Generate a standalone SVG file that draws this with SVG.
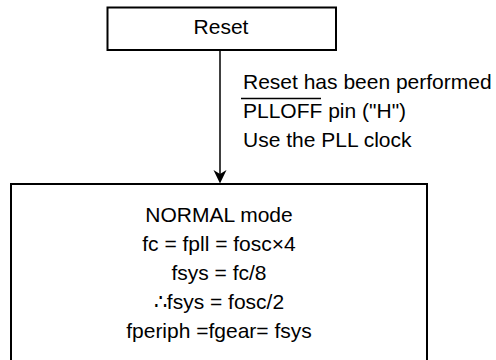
<svg xmlns="http://www.w3.org/2000/svg" width="496" height="360" viewBox="0 0 496 360">
<style>
.box{fill:#fff;stroke:#000;stroke-width:2}
.t{font-family:"Liberation Sans",Arial,sans-serif;font-size:21px;fill:#000}
.c{text-anchor:middle}
.edge{stroke:#000;stroke-width:1.5;fill:none}
</style>
<rect width="496" height="360" fill="#fff"/>
<g id="reset">
<rect class="box" x="107.5" y="7.5" width="228.5" height="42.5"/>
<text class="t c" x="221" y="34">Reset</text>
</g>
<g id="normal">
<rect class="box" x="11" y="184" width="416" height="190"/>
<text class="t c" x="219" y="222">NORMAL mode</text>
<text class="t c" x="219" y="251">fc = fpll = fosc×4</text>
<text class="t c" x="219" y="280">fsys = fc/8</text>
<text class="t c" x="219" y="309">∴fsys = fosc/2</text>
<text class="t c" x="219" y="338">fperiph =fgear= fsys</text>
</g>
<g id="connectors">
<line class="edge" x1="220" y1="50" x2="220" y2="175"/>
<polygon points="220,183.5 213.5,170 220,174 226.5,170" fill="#000"/>
<text class="t" x="243" y="89">Reset has been performed</text>
<text class="t" x="243" y="118">PLLOFF pin ("H")</text>
<line x1="241" y1="98.5" x2="321" y2="98.5" stroke="#000" stroke-width="1.5"/>
<text class="t" x="243" y="147">Use the PLL clock</text>
</g>
</svg>
